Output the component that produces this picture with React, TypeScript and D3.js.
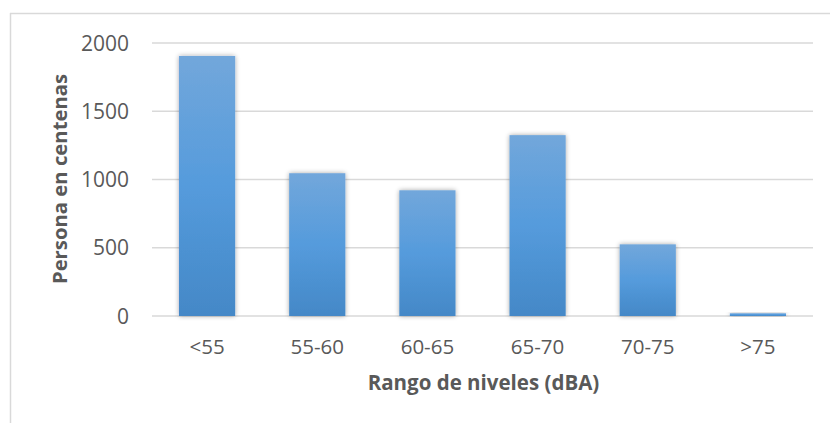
import React from "react";
import * as d3 from "d3";

// Population exposed per noise level range (hundreds of people)
const categories = ["<55", "55-60", "60-65", "65-70", "70-75", ">75"];
const values = [1905, 1046, 921, 1325, 525, 20];
const yTicks = [0, 500, 1000, 1500, 2000];

const W = 830;
const H = 423;
const plot = { left: 152, right: 813, top: 43, bottom: 316 };
const FONT = "'Open Sans', 'Liberation Sans', sans-serif";
const TEXT = "#595959";

export default function App() {
  const x = d3
    .scaleBand<string>()
    .domain(categories)
    .range([plot.left, plot.right])
    .paddingInner(0.49)
    .paddingOuter(0.245);
  const y = d3.scaleLinear().domain([0, 2000]).range([plot.bottom, plot.top]);

  return (
    <svg
      width={W}
      height={H}
      style={{ position: "absolute", left: 0, top: 0, background: "#fff" }}
    >
      <defs>
        <linearGradient id="barFill" x1="0" y1="0" x2="0" y2="1">
          <stop offset="0%" stopColor="#72a7db" />
          <stop offset="50%" stopColor="#559bdc" />
          <stop offset="100%" stopColor="#4488c7" />
        </linearGradient>
        <filter id="barShadow" x="-30%" y="-10%" width="160%" height="120%">
          <feGaussianBlur in="SourceAlpha" stdDeviation="2.5" />
          <feOffset dx="0" dy="0" result="blur" />
          <feComponentTransfer>
            <feFuncA type="linear" slope="0.35" />
          </feComponentTransfer>
          <feMerge>
            <feMergeNode />
            <feMergeNode in="SourceGraphic" />
          </feMerge>
        </filter>
      </defs>

      {/* chart frame */}
      <line x1={10.5} x2={10.5} y1={13} y2={H} stroke="#d9d9d9" strokeWidth={1.5} />
      <line x1={10} x2={W} y1={13.5} y2={13.5} stroke="#d9d9d9" strokeWidth={1.5} />

      {/* horizontal gridlines */}
      {yTicks.map((t) => (
        <line
          key={t}
          x1={plot.left}
          x2={plot.right}
          y1={y(t)}
          y2={y(t)}
          stroke="#d9d9d9"
          strokeWidth={1.5}
        />
      ))}

      {/* bars */}
      {categories.map((c, i) => (
        <rect
          key={c}
          x={x(c)}
          y={y(values[i])}
          width={x.bandwidth()}
          height={y(0) - y(values[i])}
          fill="url(#barFill)"
          filter="url(#barShadow)"
        />
      ))}

      {/* y tick labels */}
      {yTicks.map((t) => (
        <text
          key={t}
          x={129}
          y={y(t)}
          dy="0.36em"
          textAnchor="end"
          fontFamily={FONT}
          fontSize={21}
          fill={TEXT}
        >
          {t}
        </text>
      ))}

      {/* x tick labels */}
      {categories.map((c) => (
        <text
          key={c}
          x={(x(c) ?? 0) + x.bandwidth() / 2}
          y={354}
          textAnchor="middle"
          fontFamily={FONT}
          fontSize={20.5}
          fill={TEXT}
        >
          {c}
        </text>
      ))}

      {/* axis titles */}
      <text
        x={(plot.left + plot.right) / 2 + 1}
        y={390}
        textAnchor="middle"
        fontFamily={FONT}
        fontSize={20.5}
        fontWeight="bold"
        fill={TEXT}
      >
        Rango de niveles (dBA)
      </text>
      <text
        transform={`translate(67, ${(75 + 283) / 2}) rotate(-90)`}
        textAnchor="middle"
        fontFamily={FONT}
        fontSize={20.3}
        fontWeight="bold"
        fill={TEXT}
      >
        Persona en centenas
      </text>
    </svg>
  );
}
